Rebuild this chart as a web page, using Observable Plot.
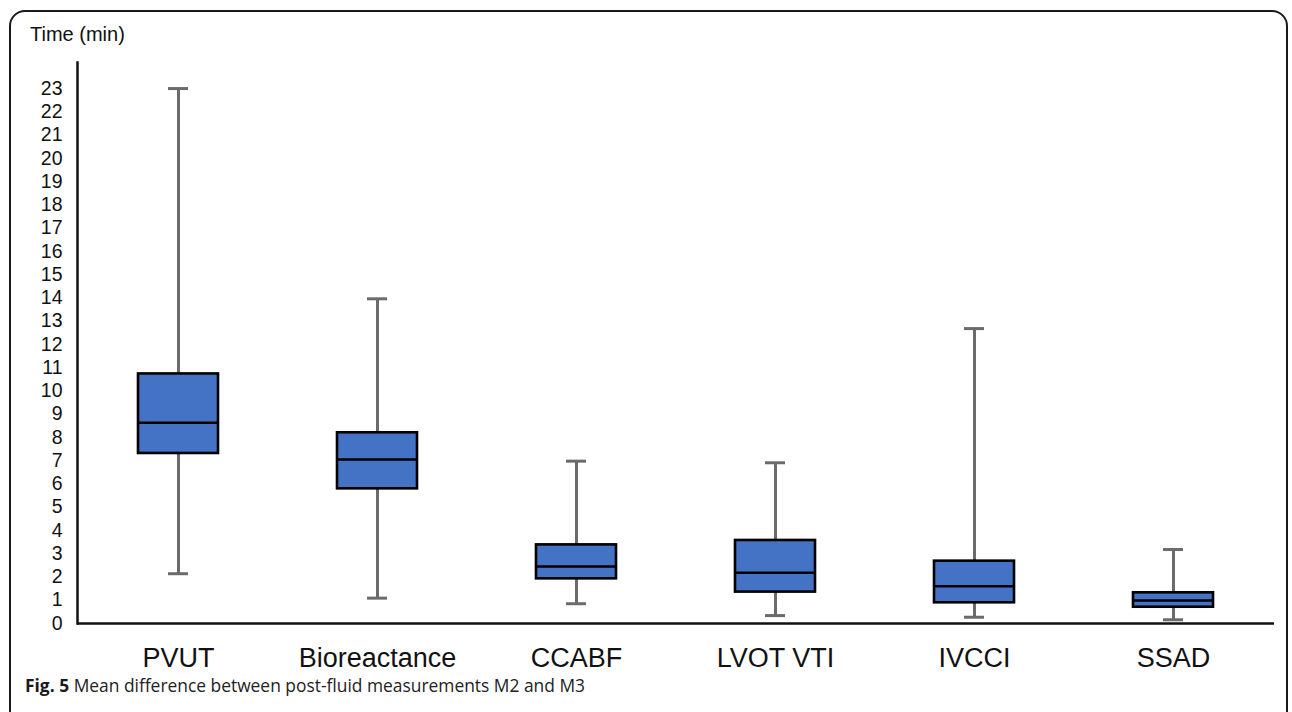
<!DOCTYPE html>
<html>
<head>
<meta charset="utf-8">
<script src="https://cdn.jsdelivr.net/npm/d3@7"></script>
<script src="https://cdn.jsdelivr.net/npm/@observablehq/plot@0.6"></script>
<style>
  html, body { margin: 0; padding: 0; background: #fff; width: 1292px; height: 712px; overflow: hidden; }
  #border { position: absolute; left: 9px; top: 10px; width: 1279px; height: 760px; border: 2px solid #1a1a1a; border-radius: 16px; box-sizing: border-box; }
  #title { position: absolute; left: 30px; top: 23px; font: 20px "Liberation Sans", Arial, sans-serif; color: #111; }
  #chart { position: absolute; left: 0; top: 0; }
  #caption { position: absolute; left: 25px; top: 677px; font: 17.4px "Open Sans", sans-serif; line-height: 16px; color: #222; white-space: nowrap; }
  #caption b { color: #1a1a1a; }
</style>
</head>
<body>
<div id="border"></div>
<div id="chart"></div>
<div id="title">Time (min)</div>
<div id="caption"><b>Fig. 5</b> Mean difference between post-fluid measurements M2 and M3</div>
<script>
const categories = ["PVUT", "Bioreactance", "CCABF", "LVOT VTI", "IVCCI", "SSAD"];
const whiskerLow  = [2.14, 1.09, 0.85, 0.34, 0.27, 0.16];
const q1Values    = [7.31, 5.79, 1.92, 1.35, 0.89, 0.70];
const medians     = [8.63, 7.05, 2.45, 2.18, 1.60, 0.99];
const q3Values    = [10.73, 8.20, 3.38, 3.57, 2.68, 1.32];
const whiskerHigh = [23.0, 13.96, 6.98, 6.91, 12.68, 3.18];
const yTicks = d3.range(0, 24);

const data = categories.map((c, i) => ({
  cat: c, lo: whiskerLow[i], q1: q1Values[i], med: medians[i], q3: q3Values[i], hi: whiskerHigh[i]
}));

const boxFill = "#4472C4";
const whiskerColor = "#6b6b6b";

const chart = Plot.plot({
  width: 1292,
  height: 672,
  marginLeft: 77,
  marginRight: 18,
  marginTop: 62,
  marginBottom: 49,
  style: { fontFamily: "'Liberation Sans', Arial, sans-serif", background: "transparent", overflow: "visible" },
  x: { domain: categories, paddingInner: 0.6, paddingOuter: 0.3, label: null },
  y: { domain: [0, 24.12], label: null },
  marks: [
    Plot.axisY({ ticks: yTicks, tickSize: 0, tickPadding: 15, fontSize: 19.5, color: "#111", label: null }),
    Plot.axisX({ tickSize: 0, tickPadding: 24, fontSize: 27, color: "#111", label: null }),
    Plot.ruleX(data, { x: "cat", y1: "q3", y2: "hi", stroke: whiskerColor, strokeWidth: 3 }),
    Plot.ruleX(data, { x: "cat", y1: "lo", y2: "q1", stroke: whiskerColor, strokeWidth: 3 }),
    Plot.tickY(data, { x: "cat", y: "hi", stroke: whiskerColor, strokeWidth: 3, insetLeft: 30, insetRight: 30 }),
    Plot.tickY(data, { x: "cat", y: "lo", stroke: whiskerColor, strokeWidth: 3, insetLeft: 30, insetRight: 30 }),
    Plot.barY(data, { x: "cat", y1: "q1", y2: "q3", fill: boxFill, stroke: "#000", strokeWidth: 2.6 }),
    Plot.tickY(data, { x: "cat", y: "med", stroke: "#000", strokeWidth: 2.6 }),
    Plot.frame({ anchor: "left", stroke: "#111", strokeWidth: 2.5 }),
    Plot.ruleY([0], { stroke: "#111", strokeWidth: 2.5 })
  ]
});
document.getElementById("chart").appendChild(chart);
</script>
</body>
</html>
